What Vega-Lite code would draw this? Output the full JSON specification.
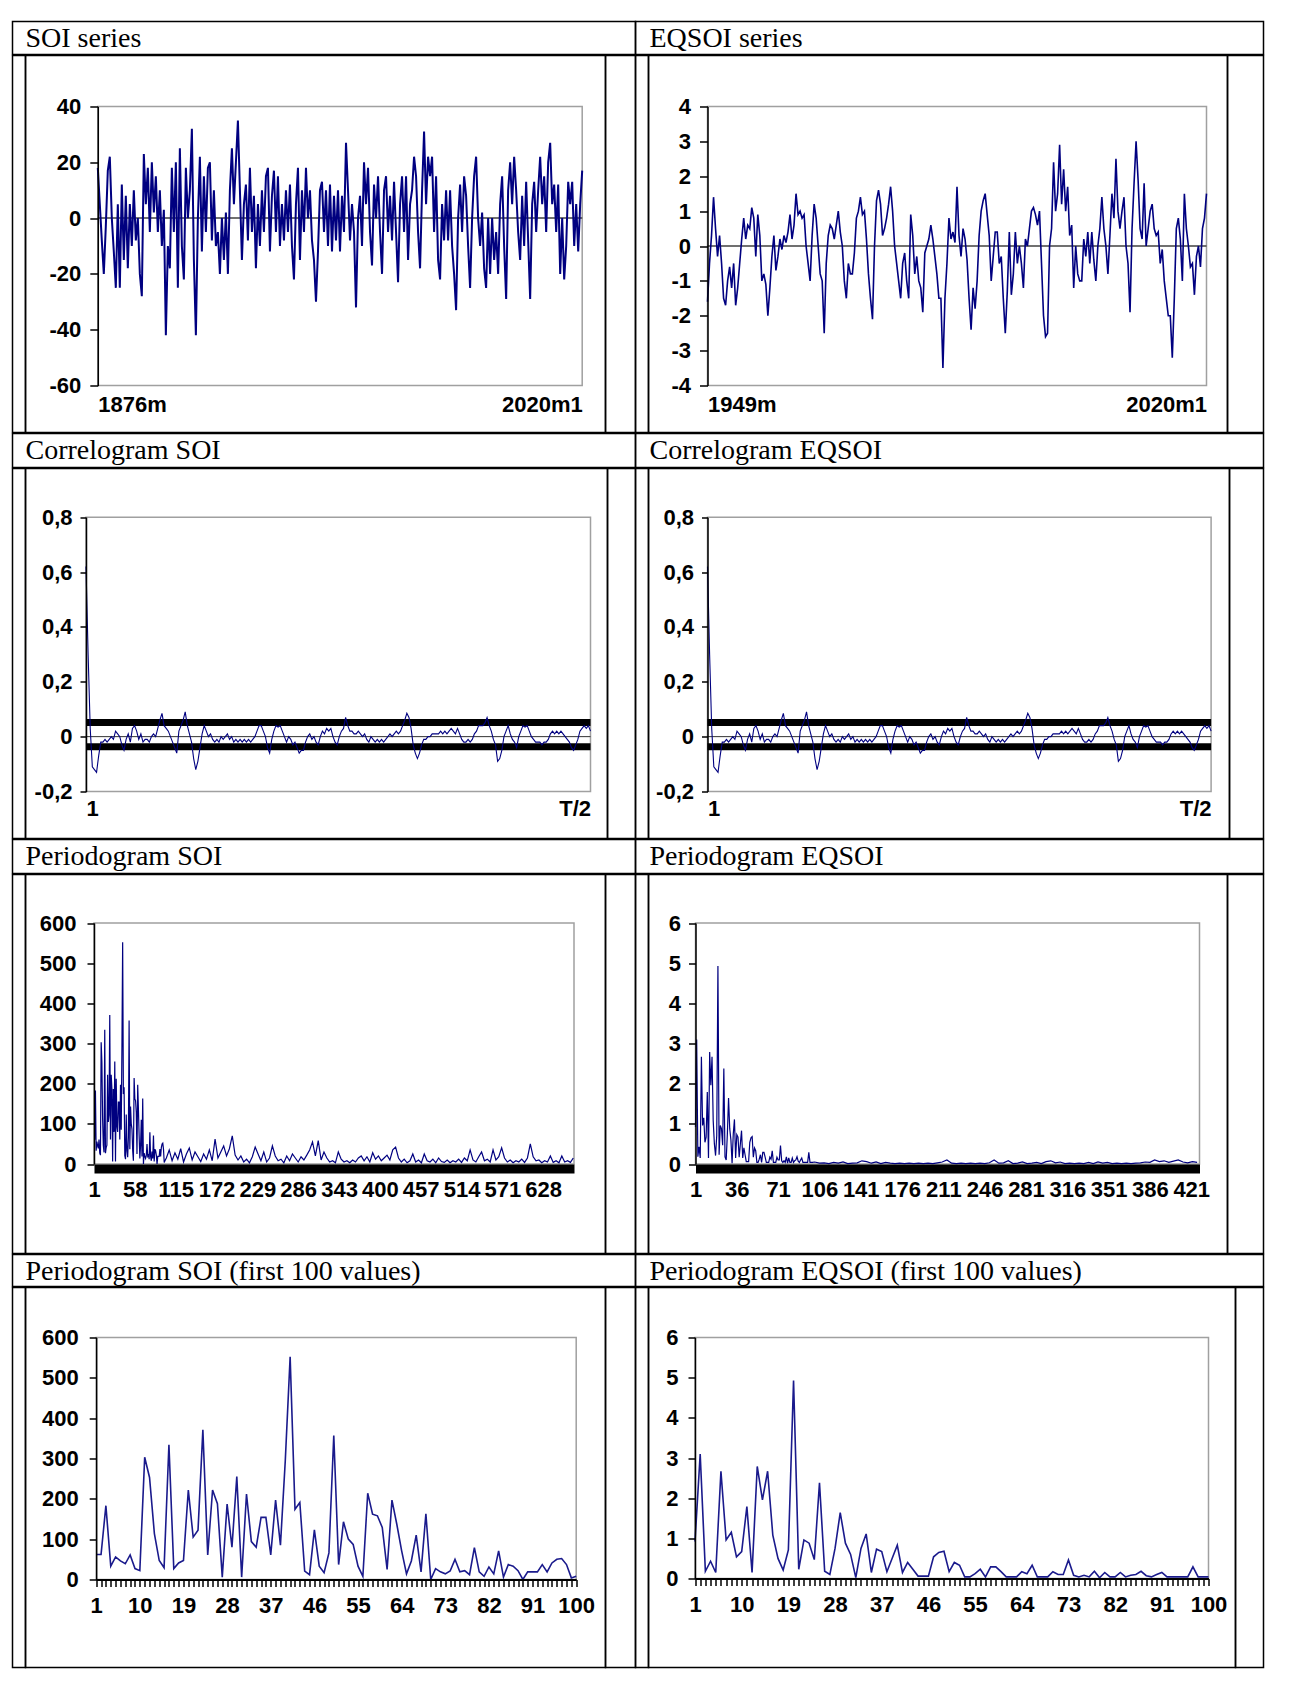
{
"$schema": "https://vega.github.io/schema/vega-lite/v6.json",
"background": "white",
"padding": {"left": 11.5, "top": 20.5, "right": 0, "bottom": 0},
"spacing": -3,
"bounds": "full",
"data": {"values": [{}]},
"datasets": {
"soi": [{"i":0,"v":18},{"i":1,"v":5},{"i":2,"v":-8},{"i":3,"v":-20},{"i":4,"v":-3},{"i":5,"v":17},{"i":6,"v":22},{"i":7,"v":0},{"i":8,"v":-12},{"i":9,"v":-25},
{"i":10,"v":5},{"i":11,"v":-25},{"i":12,"v":12},{"i":13,"v":-15},{"i":14,"v":8},{"i":15,"v":-18},{"i":16,"v":5},{"i":17,"v":-10},{"i":18,"v":10},{"i":19,"v":-8},
{"i":20,"v":0},{"i":21,"v":-20},{"i":22,"v":-28},{"i":23,"v":23},{"i":24,"v":5},{"i":25,"v":18},{"i":26,"v":-5},{"i":27,"v":20},{"i":28,"v":2},{"i":29,"v":15},
{"i":30,"v":-5},{"i":31,"v":10},{"i":32,"v":-10},{"i":33,"v":3},{"i":34,"v":-42},{"i":35,"v":-10},{"i":36,"v":-18},{"i":37,"v":18},{"i":38,"v":-5},{"i":39,"v":20},
{"i":40,"v":-25},{"i":41,"v":25},{"i":42,"v":-10},{"i":43,"v":-22},{"i":44,"v":18},{"i":45,"v":0},{"i":46,"v":10},{"i":47,"v":32},{"i":48,"v":-15},{"i":49,"v":-42},
{"i":50,"v":0},{"i":51,"v":22},{"i":52,"v":-12},{"i":53,"v":15},{"i":54,"v":-5},{"i":55,"v":18},{"i":56,"v":20},{"i":57,"v":-8},{"i":58,"v":10},{"i":59,"v":-10},
{"i":60,"v":-5},{"i":61,"v":-20},{"i":62,"v":0},{"i":63,"v":-15},{"i":64,"v":2},{"i":65,"v":-20},{"i":66,"v":10},{"i":67,"v":25},{"i":68,"v":5},{"i":69,"v":20},
{"i":70,"v":35},{"i":71,"v":10},{"i":72,"v":-15},{"i":73,"v":5},{"i":74,"v":12},{"i":75,"v":-8},{"i":76,"v":18},{"i":77,"v":-5},{"i":78,"v":8},{"i":79,"v":-18},
{"i":80,"v":5},{"i":81,"v":-10},{"i":82,"v":10},{"i":83,"v":-5},{"i":84,"v":15},{"i":85,"v":18},{"i":86,"v":-12},{"i":87,"v":8},{"i":88,"v":17},{"i":89,"v":-5},
{"i":90,"v":15},{"i":91,"v":-10},{"i":92,"v":5},{"i":93,"v":-8},{"i":94,"v":10},{"i":95,"v":-5},{"i":96,"v":12},{"i":97,"v":-10},{"i":98,"v":-22},{"i":99,"v":5},
{"i":100,"v":18},{"i":101,"v":-15},{"i":102,"v":10},{"i":103,"v":-5},{"i":104,"v":18},{"i":105,"v":0},{"i":106,"v":10},{"i":107,"v":-8},{"i":108,"v":-15},{"i":109,"v":-30},
{"i":110,"v":-12},{"i":111,"v":10},{"i":112,"v":13},{"i":113,"v":-5},{"i":114,"v":10},{"i":115,"v":-10},{"i":116,"v":12},{"i":117,"v":-12},{"i":118,"v":8},{"i":119,"v":-8},
{"i":120,"v":10},{"i":121,"v":-12},{"i":122,"v":8},{"i":123,"v":-5},
{"i":124,"v":27},{"i":125,"v":10},{"i":126,"v":-8},{"i":127,"v":5},{"i":128,"v":-5},{"i":129,"v":-32},{"i":130,"v":0},{"i":131,"v":8},{"i":132,"v":-10},{"i":133,"v":20},
{"i":134,"v":5},{"i":135,"v":18},{"i":136,"v":-5},{"i":137,"v":-17},{"i":138,"v":12},{"i":139,"v":0},{"i":140,"v":15},{"i":141,"v":-5},{"i":142,"v":-20},{"i":143,"v":10},
{"i":144,"v":15},{"i":145,"v":-5},{"i":146,"v":8},{"i":147,"v":-8},{"i":148,"v":13},{"i":149,"v":-5},{"i":150,"v":-23},{"i":151,"v":5},{"i":152,"v":15},{"i":153,"v":-5},
{"i":154,"v":15},{"i":155,"v":-15},{"i":156,"v":5},{"i":157,"v":10},{"i":158,"v":22},{"i":159,"v":15},{"i":160,"v":-5},{"i":161,"v":-18},{"i":162,"v":10},{"i":163,"v":31},
{"i":164,"v":5},{"i":165,"v":22},{"i":166,"v":15},{"i":167,"v":22},{"i":168,"v":-5},{"i":169,"v":15},{"i":170,"v":-15},{"i":171,"v":-22},{"i":172,"v":5},{"i":173,"v":-8},
{"i":174,"v":10},{"i":175,"v":-8},{"i":176,"v":10},{"i":177,"v":-10},{"i":178,"v":-20},{"i":179,"v":-33},{"i":180,"v":0},{"i":181,"v":12},{"i":182,"v":-5},{"i":183,"v":15},
{"i":184,"v":8},{"i":185,"v":-10},{"i":186,"v":-25},{"i":187,"v":0},{"i":188,"v":15},{"i":189,"v":22},{"i":190,"v":0},{"i":191,"v":-10},{"i":192,"v":2},{"i":193,"v":-18},
{"i":194,"v":-25},{"i":195,"v":0},{"i":196,"v":-20},{"i":197,"v":0},{"i":198,"v":-15},{"i":199,"v":-5},{"i":200,"v":-20},{"i":201,"v":5},{"i":202,"v":15},{"i":203,"v":-10},
{"i":204,"v":-29},{"i":205,"v":10},{"i":206,"v":20},{"i":207,"v":5},{"i":208,"v":22},{"i":209,"v":10},{"i":210,"v":-5},{"i":211,"v":-15},{"i":212,"v":8},{"i":213,"v":-10},
{"i":214,"v":13},{"i":215,"v":-8},{"i":216,"v":-29},{"i":217,"v":5},{"i":218,"v":13},{"i":219,"v":-5},{"i":220,"v":10},{"i":221,"v":22},{"i":222,"v":5},{"i":223,"v":15},
{"i":224,"v":-5},{"i":225,"v":20},{"i":226,"v":27},{"i":227,"v":5},{"i":228,"v":12},{"i":229,"v":-5},{"i":230,"v":12},{"i":231,"v":-20},{"i":232,"v":0},{"i":233,"v":-22},
{"i":234,"v":-10},{"i":235,"v":13},{"i":236,"v":5},{"i":237,"v":13},{"i":238,"v":-10},{"i":239,"v":5},{"i":240,"v":-12},{"i":241,"v":5},{"i":242,"v":17}],
"eq": [{"i":0,"v":-1.6},{"i":1,"v":-0.5},{"i":2,"v":0.3},{"i":3,"v":1.4},{"i":4,"v":0.5},{"i":5,"v":-0.3},{"i":6,"v":0.3},{"i":7,"v":-0.5},{"i":8,"v":-1.5},{"i":9,"v":-1.7},
{"i":10,"v":-1.0},{"i":11,"v":-0.6},{"i":12,"v":-1.2},{"i":13,"v":-0.5},{"i":14,"v":-1.7},{"i":15,"v":-1.2},{"i":16,"v":-0.5},{"i":17,"v":0.2},{"i":18,"v":0.8},{"i":19,"v":0.2},
{"i":20,"v":0.6},{"i":21,"v":0.5},{"i":22,"v":1.1},{"i":23,"v":0.8},{"i":24,"v":-0.3},{"i":25,"v":0.9},{"i":26,"v":0.3},{"i":27,"v":-1.0},{"i":28,"v":-0.8},{"i":29,"v":-1.1},
{"i":30,"v":-2.0},{"i":31,"v":-1.2},{"i":32,"v":-0.3},{"i":33,"v":0.3},{"i":34,"v":-0.7},{"i":35,"v":-0.3},{"i":36,"v":0.2},{"i":37,"v":-0.1},{"i":38,"v":0.3},{"i":39,"v":0.1},
{"i":40,"v":0.4},{"i":41,"v":0.9},{"i":42,"v":0.2},{"i":43,"v":0.6},{"i":44,"v":1.5},{"i":45,"v":0.9},{"i":46,"v":1.0},{"i":47,"v":0.8},{"i":48,"v":0.9},{"i":49,"v":0.0},
{"i":50,"v":-0.5},{"i":51,"v":-1.0},{"i":52,"v":0.3},{"i":53,"v":1.2},{"i":54,"v":0.8},{"i":55,"v":0.0},{"i":56,"v":-0.8},{"i":57,"v":-1.0},{"i":58,"v":-2.5},{"i":59,"v":-0.5},
{"i":60,"v":0.3},{"i":61,"v":0.6},{"i":62,"v":0.5},{"i":63,"v":0.2},{"i":64,"v":0.6},{"i":65,"v":1.0},{"i":66,"v":0.4},{"i":67,"v":0.0},{"i":68,"v":-1.0},{"i":69,"v":-1.5},
{"i":70,"v":-0.5},{"i":71,"v":-0.8},{"i":72,"v":-0.8},{"i":73,"v":-0.2},{"i":74,"v":0.8},{"i":75,"v":1.0},{"i":76,"v":1.4},{"i":77,"v":0.9},{"i":78,"v":1.0},{"i":79,"v":0.2},
{"i":80,"v":-0.8},{"i":81,"v":-1.5},{"i":82,"v":-2.1},{"i":83,"v":0.0},{"i":84,"v":1.3},{"i":85,"v":1.6},{"i":86,"v":1.2},{"i":87,"v":0.3},{"i":88,"v":0.5},{"i":89,"v":0.8},
{"i":90,"v":1.2},{"i":91,"v":1.7},{"i":92,"v":1.0},{"i":93,"v":0.0},{"i":94,"v":-0.5},{"i":95,"v":-1.0},{"i":96,"v":-1.5},{"i":97,"v":-0.5},{"i":98,"v":-0.2},{"i":99,"v":-1.0},
{"i":100,"v":-1.5},{"i":101,"v":0.9},{"i":102,"v":0.3},{"i":103,"v":-0.8},{"i":104,"v":-0.3},{"i":105,"v":-1.0},{"i":106,"v":-1.2},{"i":107,"v":-1.9},{"i":108,"v":-0.2},{"i":109,"v":0.0},
{"i":110,"v":0.2},{"i":111,"v":0.6},{"i":112,"v":0.2},{"i":113,"v":-0.3},{"i":114,"v":-0.8},{"i":115,"v":-1.5},{"i":116,"v":-1.5},{"i":117,"v":-3.5},{"i":118,"v":-1.5},{"i":119,"v":-0.5},
{"i":120,"v":0.8},{"i":121,"v":0.2},{"i":122,"v":0.4},{"i":123,"v":0.1},{"i":124,"v":1.7},{"i":125,"v":0.3},{"i":126,"v":-0.3},{"i":127,"v":0.5},{"i":128,"v":0.2},{"i":129,"v":-0.4},
{"i":130,"v":-1.5},{"i":131,"v":-2.4},{"i":132,"v":-1.2},{"i":133,"v":-1.8},{"i":134,"v":-1.0},{"i":135,"v":0.3},{"i":136,"v":1.0},{"i":137,"v":1.3},{"i":138,"v":1.5},{"i":139,"v":0.9},
{"i":140,"v":0.3},{"i":141,"v":-1.0},{"i":142,"v":-0.3},{"i":143,"v":0.4},{"i":144,"v":0.4},{"i":145,"v":-0.5},{"i":146,"v":-0.3},{"i":147,"v":-1.5},{"i":148,"v":-2.5},{"i":149,"v":-1.3},
{"i":150,"v":0.4},{"i":151,"v":-1.4},{"i":152,"v":-0.8},{"i":153,"v":0.4},{"i":154,"v":-0.5},{"i":155,"v":0.0},{"i":156,"v":-0.5},{"i":157,"v":-1.2},{"i":158,"v":0.2},{"i":159,"v":0.0},
{"i":160,"v":0.5},{"i":161,"v":1.0},{"i":162,"v":1.1},{"i":163,"v":0.9},{"i":164,"v":0.6},{"i":165,"v":1.0},{"i":166,"v":-0.5},{"i":167,"v":-2.0},{"i":168,"v":-2.6},{"i":169,"v":-2.5},
{"i":170,"v":0.0},{"i":171,"v":0.5},{"i":172,"v":2.4},{"i":173,"v":1.0},{"i":174,"v":1.5},{"i":175,"v":2.9},{"i":176,"v":1.2},{"i":177,"v":2.2},{"i":178,"v":1.0},{"i":179,"v":1.7},
{"i":180,"v":0.3},{"i":181,"v":0.6},{"i":182,"v":-1.2},{"i":183,"v":0.0},{"i":184,"v":-0.8},{"i":185,"v":-1.0},{"i":186,"v":-1.0},{"i":187,"v":0.2},{"i":188,"v":-0.3},{"i":189,"v":0.4},
{"i":190,"v":-0.5},{"i":191,"v":0.4},{"i":192,"v":-0.4},{"i":193,"v":-1.0},{"i":194,"v":0.0},{"i":195,"v":0.5},{"i":196,"v":1.4},{"i":197,"v":0.5},{"i":198,"v":0.0},{"i":199,"v":-0.8},
{"i":200,"v":0.3},{"i":201,"v":1.5},{"i":202,"v":0.8},{"i":203,"v":2.5},{"i":204,"v":1.0},{"i":205,"v":0.5},{"i":206,"v":1.0},{"i":207,"v":1.4},{"i":208,"v":0.0},{"i":209,"v":-0.5},
{"i":210,"v":-1.9},{"i":211,"v":0.5},{"i":212,"v":1.8},{"i":213,"v":3.0},{"i":214,"v":1.9},{"i":215,"v":0.5},{"i":216,"v":0.2},{"i":217,"v":1.8},{"i":218,"v":0.0},{"i":219,"v":0.5},
{"i":220,"v":1.0},{"i":221,"v":1.2},{"i":222,"v":0.5},{"i":223,"v":0.3},{"i":224,"v":0.4},{"i":225,"v":-0.5},{"i":226,"v":-0.1},{"i":227,"v":-1.0},{"i":228,"v":-1.5},{"i":229,"v":-2.0},
{"i":230,"v":-2.0},{"i":231,"v":-3.2},{"i":232,"v":-1.5},{"i":233,"v":0.5},{"i":234,"v":0.8},{"i":235,"v":0.2},{"i":236,"v":-1.0},{"i":237,"v":1.5},{"i":238,"v":0.5},{"i":239,"v":0.0},
{"i":240,"v":-0.6},{"i":241,"v":-0.5},{"i":242,"v":-1.4},{"i":243,"v":-0.3},{"i":244,"v":0.0},{"i":245,"v":-0.6},{"i":246,"v":0.5},{"i":247,"v":0.8},{"i":248,"v":1.5}],
"acf": [{"i":0,"v":0.62},{"i":1,"v":0.30},{"i":2,"v":0.03},{"i":3,"v":-0.11},{"i":4,"v":-0.12},{"i":5,"v":-0.13},{"i":6,"v":-0.07},{"i":7,"v":-0.02},{"i":8,"v":-0.02},{"i":9,"v":-0.01},
{"i":10,"v":-0.02},{"i":11,"v":-0.01},{"i":12,"v":0.0},{"i":13,"v":-0.01},{"i":14,"v":0.02},{"i":15,"v":0.01},{"i":16,"v":0.0},{"i":17,"v":-0.03},{"i":18,"v":-0.05},{"i":19,"v":-0.01},
{"i":20,"v":0.01},{"i":21,"v":-0.02},{"i":22,"v":0.03},{"i":23,"v":0.04},{"i":24,"v":0.02},{"i":25,"v":-0.01},{"i":26,"v":0.01},{"i":27,"v":-0.02},{"i":28,"v":-0.01},{"i":29,"v":-0.01},
{"i":30,"v":-0.02},{"i":31,"v":0.0},{"i":32,"v":0.01},{"i":33,"v":0.0},{"i":34,"v":0.03},{"i":35,"v":0.06},{"i":36,"v":0.085},{"i":37,"v":0.04},{"i":38,"v":0.03},{"i":39,"v":0.02},
{"i":40,"v":0.0},{"i":41,"v":-0.02},{"i":42,"v":-0.04},{"i":43,"v":-0.06},{"i":44,"v":0.02},{"i":45,"v":0.04},{"i":46,"v":0.06},{"i":47,"v":0.09},{"i":48,"v":0.04},{"i":49,"v":0.01},
{"i":50,"v":-0.02},{"i":51,"v":-0.08},{"i":52,"v":-0.12},{"i":53,"v":-0.09},{"i":54,"v":-0.04},{"i":55,"v":0.01},{"i":56,"v":0.04},{"i":57,"v":0.02},{"i":58,"v":0.0},{"i":59,"v":0.01},
{"i":60,"v":-0.01},{"i":61,"v":-0.02},{"i":62,"v":-0.01},{"i":63,"v":-0.02},{"i":64,"v":0.0},{"i":65,"v":-0.01},{"i":66,"v":0.0},{"i":67,"v":0.01},{"i":68,"v":-0.01},{"i":69,"v":0.0},
{"i":70,"v":-0.02},{"i":71,"v":-0.01},{"i":72,"v":-0.02},{"i":73,"v":-0.01},{"i":74,"v":-0.02},{"i":75,"v":-0.01},{"i":76,"v":-0.02},{"i":77,"v":-0.01},{"i":78,"v":-0.02},{"i":79,"v":-0.01},
{"i":80,"v":0.0},{"i":81,"v":0.02},{"i":82,"v":0.04},{"i":83,"v":0.04},{"i":84,"v":0.02},{"i":85,"v":0.0},{"i":86,"v":-0.04},{"i":87,"v":-0.06},{"i":88,"v":-0.01},{"i":89,"v":0.02},
{"i":90,"v":0.04},{"i":91,"v":0.035},{"i":92,"v":0.04},{"i":93,"v":0.02},{"i":94,"v":0.0},{"i":95,"v":-0.02},{"i":96,"v":0.0},{"i":97,"v":-0.01},{"i":98,"v":-0.03},{"i":99,"v":-0.02},
{"i":100,"v":-0.04},{"i":101,"v":-0.06},{"i":102,"v":-0.05},{"i":103,"v":-0.05},{"i":104,"v":-0.02},{"i":105,"v":0.0},{"i":106,"v":0.01},{"i":107,"v":-0.01},{"i":108,"v":0.0},{"i":109,"v":-0.02},
{"i":110,"v":-0.03},{"i":111,"v":0.0},{"i":112,"v":0.02},{"i":113,"v":0.01},{"i":114,"v":0.03},{"i":115,"v":0.02},{"i":116,"v":0.03},{"i":117,"v":0.0},{"i":118,"v":-0.02},{"i":119,"v":-0.03},
{"i":120,"v":0.0},{"i":121,"v":0.02},{"i":122,"v":0.03},{"i":123,"v":0.07},{"i":124,"v":0.04},{"i":125,"v":0.02},{"i":126,"v":0.02},{"i":127,"v":0.01},{"i":128,"v":0.01},{"i":129,"v":0.02},
{"i":130,"v":0.01},{"i":131,"v":0.0},{"i":132,"v":0.01},{"i":133,"v":-0.01},{"i":134,"v":-0.02},{"i":135,"v":0.0},{"i":136,"v":-0.01},{"i":137,"v":-0.02},{"i":138,"v":-0.01},{"i":139,"v":-0.02},
{"i":140,"v":-0.01},{"i":141,"v":-0.02},{"i":142,"v":-0.01},{"i":143,"v":0.0},{"i":144,"v":0.01},{"i":145,"v":0.0},{"i":146,"v":0.01},{"i":147,"v":0.02},{"i":148,"v":0.01},{"i":149,"v":0.02},
{"i":150,"v":0.04},{"i":151,"v":0.06},{"i":152,"v":0.085},{"i":153,"v":0.07},{"i":154,"v":0.03},{"i":155,"v":-0.03},{"i":156,"v":-0.06},{"i":157,"v":-0.08},{"i":158,"v":-0.06},{"i":159,"v":-0.03},
{"i":160,"v":-0.01},{"i":161,"v":-0.01},{"i":162,"v":0.0},{"i":163,"v":0.0},{"i":164,"v":0.01},{"i":165,"v":0.01},{"i":166,"v":0.01},{"i":167,"v":0.01},{"i":168,"v":0.02},{"i":169,"v":0.01},
{"i":170,"v":0.02},{"i":171,"v":0.01},{"i":172,"v":0.02},{"i":173,"v":0.03},{"i":174,"v":0.02},{"i":175,"v":0.01},{"i":176,"v":0.03},{"i":177,"v":0.01},{"i":178,"v":-0.01},{"i":179,"v":-0.02},
{"i":180,"v":-0.02},{"i":181,"v":-0.01},{"i":182,"v":-0.02},{"i":183,"v":-0.01},{"i":184,"v":0.01},{"i":185,"v":0.02},{"i":186,"v":0.04},{"i":187,"v":0.04},{"i":188,"v":0.04},{"i":189,"v":0.05},
{"i":190,"v":0.07},{"i":191,"v":0.04},{"i":192,"v":0.02},{"i":193,"v":-0.01},{"i":194,"v":-0.03},{"i":195,"v":-0.09},{"i":196,"v":-0.08},{"i":197,"v":-0.05},{"i":198,"v":0.0},{"i":199,"v":0.02},
{"i":200,"v":0.04},{"i":201,"v":0.01},{"i":202,"v":-0.01},{"i":203,"v":-0.02},{"i":204,"v":-0.04},{"i":205,"v":0.0},{"i":206,"v":0.02},{"i":207,"v":0.04},{"i":208,"v":0.035},{"i":209,"v":0.04},
{"i":210,"v":0.02},{"i":211,"v":0.0},{"i":212,"v":-0.01},{"i":213,"v":-0.02},{"i":214,"v":-0.02},{"i":215,"v":-0.02},{"i":216,"v":-0.03},{"i":217,"v":-0.02},{"i":218,"v":-0.02},{"i":219,"v":-0.01},
{"i":220,"v":0.01},{"i":221,"v":0.02},{"i":222,"v":0.01},{"i":223,"v":0.02},{"i":224,"v":0.01},{"i":225,"v":0.02},{"i":226,"v":0.01},{"i":227,"v":0.0},{"i":228,"v":-0.01},{"i":229,"v":-0.02},
{"i":230,"v":-0.04},{"i":231,"v":-0.05},{"i":232,"v":-0.03},{"i":233,"v":-0.01},{"i":234,"v":0.02},{"i":235,"v":0.03},{"i":236,"v":0.04},{"i":237,"v":0.03},{"i":238,"v":0.04},{"i":239,"v":0.02}],
"psoi": [{"k":1,"p":62},{"k":2,"p":62},{"k":3,"p":183},{"k":4,"p":33},{"k":5,"p":56},{"k":6,"p":46},{"k":7,"p":39},{"k":8,"p":61},{"k":9,"p":27},{"k":10,"p":22},
{"k":11,"p":303},{"k":12,"p":253},{"k":13,"p":114},{"k":14,"p":47},{"k":15,"p":29},{"k":16,"p":334},{"k":17,"p":27},{"k":18,"p":41},{"k":19,"p":47},{"k":20,"p":222},
{"k":21,"p":105},{"k":22,"p":122},{"k":23,"p":371},{"k":24,"p":61},{"k":25,"p":222},{"k":26,"p":188},{"k":27,"p":6},{"k":28,"p":187},{"k":29,"p":80},{"k":30,"p":255},
{"k":31,"p":6},{"k":32,"p":212},{"k":33,"p":94},{"k":34,"p":80},{"k":35,"p":154},{"k":36,"p":154},{"k":37,"p":61},{"k":38,"p":197},{"k":39,"p":85},{"k":40,"p":295},
{"k":41,"p":552},{"k":42,"p":174},{"k":43,"p":191},{"k":44,"p":21},{"k":45,"p":12},{"k":46,"p":123},{"k":47,"p":33},{"k":48,"p":17},{"k":49,"p":66},{"k":50,"p":357},
{"k":51,"p":37},{"k":52,"p":143},{"k":53,"p":100},{"k":54,"p":87},{"k":55,"p":33},{"k":56,"p":8},{"k":57,"p":214},{"k":58,"p":162},{"k":59,"p":158},{"k":60,"p":129},
{"k":61,"p":25},{"k":62,"p":197},{"k":63,"p":137},{"k":64,"p":71},{"k":65,"p":14},{"k":66,"p":46},{"k":67,"p":110},{"k":68,"p":19},{"k":69,"p":163},{"k":70,"p":0},
{"k":71,"p":27},{"k":72,"p":19},{"k":73,"p":14},{"k":74,"p":21},{"k":75,"p":50},{"k":76,"p":19},{"k":77,"p":22},{"k":78,"p":12},{"k":79,"p":79},{"k":80,"p":19},
{"k":81,"p":8},{"k":82,"p":31},{"k":83,"p":14},{"k":84,"p":71},{"k":85,"p":6},{"k":86,"p":37},{"k":87,"p":33},{"k":88,"p":22},{"k":89,"p":0},{"k":90,"p":19},
{"k":91,"p":19},{"k":92,"p":19},{"k":93,"p":37},{"k":94,"p":19},{"k":95,"p":41},{"k":96,"p":50},{"k":97,"p":52},{"k":98,"p":37},{"k":99,"p":4},{"k":100,"p":8},
{"k":102,"p":15},{"k":106,"p":35},{"k":110,"p":8},{"k":114,"p":28},{"k":118,"p":12},{"k":122,"p":38},{"k":126,"p":5},{"k":130,"p":25},{"k":134,"p":40},{"k":138,"p":10},
{"k":142,"p":30},{"k":146,"p":18},{"k":150,"p":6},{"k":154,"p":25},{"k":158,"p":12},{"k":162,"p":35},{"k":166,"p":8},{"k":170,"p":62},{"k":174,"p":15},{"k":178,"p":30},
{"k":182,"p":45},{"k":186,"p":20},{"k":190,"p":38},{"k":194,"p":70},{"k":198,"p":22},{"k":202,"p":10},{"k":206,"p":20},{"k":210,"p":5},{"k":214,"p":12},{"k":218,"p":3},
{"k":222,"p":18},{"k":226,"p":42},{"k":230,"p":25},{"k":234,"p":8},{"k":238,"p":30},{"k":242,"p":5},{"k":246,"p":15},{"k":250,"p":45},{"k":254,"p":20},{"k":258,"p":8},
{"k":262,"p":12},{"k":266,"p":3},{"k":270,"p":20},{"k":274,"p":8},{"k":278,"p":25},{"k":282,"p":15},{"k":286,"p":5},{"k":290,"p":18},{"k":294,"p":10},{"k":298,"p":22},
{"k":302,"p":35},{"k":306,"p":55},{"k":310,"p":20},{"k":314,"p":58},{"k":318,"p":10},{"k":322,"p":30},{"k":326,"p":15},{"k":330,"p":5},{"k":334,"p":8},{"k":338,"p":3},
{"k":342,"p":30},{"k":346,"p":12},{"k":350,"p":5},{"k":354,"p":8},{"k":358,"p":3},{"k":362,"p":10},{"k":366,"p":5},{"k":370,"p":15},{"k":374,"p":20},{"k":378,"p":8},
{"k":382,"p":18},{"k":386,"p":5},{"k":390,"p":28},{"k":394,"p":12},{"k":398,"p":20},{"k":402,"p":8},{"k":406,"p":15},{"k":410,"p":22},{"k":414,"p":10},{"k":418,"p":35},
{"k":422,"p":42},{"k":426,"p":15},{"k":430,"p":5},{"k":434,"p":12},{"k":438,"p":3},{"k":442,"p":8},{"k":446,"p":25},{"k":450,"p":5},{"k":454,"p":10},{"k":458,"p":3},
{"k":462,"p":25},{"k":466,"p":8},{"k":470,"p":5},{"k":474,"p":12},{"k":478,"p":3},{"k":482,"p":15},{"k":486,"p":6},{"k":490,"p":4},{"k":494,"p":10},{"k":498,"p":3},
{"k":502,"p":8},{"k":506,"p":5},{"k":510,"p":12},{"k":514,"p":4},{"k":518,"p":15},{"k":522,"p":8},{"k":526,"p":35},{"k":530,"p":10},{"k":534,"p":5},{"k":538,"p":18},
{"k":542,"p":30},{"k":546,"p":8},{"k":550,"p":12},{"k":554,"p":5},{"k":558,"p":35},{"k":562,"p":10},{"k":566,"p":18},{"k":570,"p":40},{"k":574,"p":15},{"k":578,"p":5},
{"k":582,"p":10},{"k":586,"p":3},{"k":590,"p":8},{"k":594,"p":5},{"k":598,"p":12},{"k":602,"p":4},{"k":606,"p":15},{"k":610,"p":50},{"k":614,"p":18},{"k":618,"p":8},
{"k":622,"p":10},{"k":626,"p":3},{"k":630,"p":8},{"k":634,"p":5},{"k":638,"p":20},{"k":642,"p":4},{"k":646,"p":8},{"k":650,"p":3},{"k":654,"p":20},{"k":658,"p":5},
{"k":662,"p":8},{"k":666,"p":4},{"k":670,"p":15}],
"peq": [{"k":1,"p":0.92},{"k":2,"p":3.10},{"k":3,"p":0.18},{"k":4,"p":0.43},{"k":5,"p":0.15},{"k":6,"p":2.67},{"k":7,"p":0.96},{"k":8,"p":1.15},{"k":9,"p":0.54},{"k":10,"p":0.67},
{"k":11,"p":1.79},{"k":12,"p":0.15},{"k":13,"p":2.79},{"k":14,"p":1.96},{"k":15,"p":2.67},{"k":16,"p":1.08},{"k":17,"p":0.5},{"k":18,"p":0.21},{"k":19,"p":0.71},{"k":20,"p":4.93},
{"k":21,"p":0.23},{"k":22,"p":0.96},{"k":23,"p":0.88},{"k":24,"p":0.47},{"k":25,"p":2.38},{"k":26,"p":0.18},{"k":27,"p":0.1},{"k":28,"p":0.75},{"k":29,"p":1.64},{"k":30,"p":0.88},
{"k":31,"p":0.6},{"k":32,"p":0.02},{"k":33,"p":0.75},{"k":34,"p":1.11},{"k":35,"p":0.15},{"k":36,"p":0.73},{"k":37,"p":0.67},{"k":38,"p":0.17},{"k":39,"p":0.5},{"k":40,"p":0.83},
{"k":41,"p":0.15},{"k":42,"p":0.4},{"k":43,"p":0.23},{"k":44,"p":0.06},{"k":45,"p":0.06},{"k":46,"p":0.06},{"k":47,"p":0.54},{"k":48,"p":0.65},{"k":49,"p":0.68},{"k":50,"p":0.17},
{"k":51,"p":0.4},{"k":52,"p":0.33},{"k":53,"p":0.04},{"k":54,"p":0.04},{"k":55,"p":0.12},{"k":56,"p":0.23},{"k":57,"p":0.04},{"k":58,"p":0.29},{"k":59,"p":0.29},{"k":60,"p":0.17},
{"k":61,"p":0.04},{"k":62,"p":0.04},{"k":63,"p":0.04},{"k":64,"p":0.17},{"k":65,"p":0.12},{"k":66,"p":0.33},{"k":67,"p":0.04},{"k":68,"p":0.04},{"k":69,"p":0.04},{"k":70,"p":0.17},
{"k":71,"p":0.1},{"k":72,"p":0.1},{"k":73,"p":0.46},{"k":74,"p":0.08},{"k":75,"p":0.04},{"k":76,"p":0.08},{"k":77,"p":0.04},{"k":78,"p":0.18},{"k":79,"p":0.02},{"k":80,"p":0.15},
{"k":81,"p":0.04},{"k":82,"p":0.04},{"k":83,"p":0.15},{"k":84,"p":0.04},{"k":85,"p":0.08},{"k":86,"p":0.1},{"k":87,"p":0.18},{"k":88,"p":0.07},{"k":89,"p":0.04},{"k":90,"p":0.1},
{"k":91,"p":0.15},{"k":92,"p":0.04},{"k":93,"p":0.04},{"k":94,"p":0.04},{"k":95,"p":0.04},{"k":96,"p":0.04},{"k":97,"p":0.29},{"k":98,"p":0.04},{"k":99,"p":0.04},{"k":100,"p":0.04},
{"k":102,"p":0.05},{"k":106,"p":0.02},{"k":110,"p":0.03},{"k":114,"p":0.01},{"k":118,"p":0.04},{"k":122,"p":0.02},{"k":126,"p":0.05},{"k":130,"p":0.01},{"k":134,"p":0.02},{"k":138,"p":0.03},
{"k":142,"p":0.08},{"k":146,"p":0.06},{"k":150,"p":0.02},{"k":154,"p":0.05},{"k":158,"p":0.01},{"k":162,"p":0.04},{"k":166,"p":0.02},{"k":170,"p":0.01},{"k":174,"p":0.02},{"k":178,"p":0.01},
{"k":182,"p":0.02},{"k":186,"p":0.01},{"k":190,"p":0.02},{"k":194,"p":0.01},{"k":198,"p":0.02},{"k":202,"p":0.01},{"k":206,"p":0.03},{"k":210,"p":0.05},{"k":214,"p":0.1},{"k":218,"p":0.02},
{"k":222,"p":0.01},{"k":226,"p":0.02},{"k":230,"p":0.01},{"k":234,"p":0.02},{"k":238,"p":0.01},{"k":242,"p":0.02},{"k":246,"p":0.01},{"k":250,"p":0.03},{"k":254,"p":0.1},{"k":258,"p":0.02},
{"k":262,"p":0.03},{"k":266,"p":0.08},{"k":270,"p":0.01},{"k":274,"p":0.02},{"k":278,"p":0.05},{"k":282,"p":0.01},{"k":286,"p":0.02},{"k":290,"p":0.04},{"k":294,"p":0.01},{"k":298,"p":0.06},
{"k":302,"p":0.08},{"k":306,"p":0.03},{"k":310,"p":0.05},{"k":314,"p":0.01},{"k":318,"p":0.02},{"k":322,"p":0.01},{"k":326,"p":0.02},{"k":330,"p":0.01},{"k":334,"p":0.04},{"k":338,"p":0.01},
{"k":342,"p":0.05},{"k":346,"p":0.02},{"k":350,"p":0.04},{"k":354,"p":0.01},{"k":358,"p":0.02},{"k":362,"p":0.01},{"k":366,"p":0.02},{"k":370,"p":0.01},{"k":374,"p":0.02},{"k":378,"p":0.03},
{"k":382,"p":0.05},{"k":386,"p":0.04},{"k":390,"p":0.1},{"k":394,"p":0.06},{"k":398,"p":0.08},{"k":402,"p":0.04},{"k":406,"p":0.07},{"k":410,"p":0.1},{"k":414,"p":0.05},{"k":418,"p":0.03},
{"k":422,"p":0.06},{"k":426,"p":0.04}]
},
"vconcat": [
{"spacing": 0, "bounds": "flush", "hconcat": [
 {"width":623,"height":33,"mark":{"type":"point","size":0,"opacity":0},"encoding":{"x":{"datum":0.5,"type":"quantitative","scale":{"domain":[0,1]},"axis":null},"y":{"datum":0.5,"type":"quantitative","scale":{"domain":[0,1]},"axis":null}},"title":{"text":"SOI series","dx":13}},
 {"width":628,"height":33,"mark":{"type":"point","size":0,"opacity":0},"encoding":{"x":{"datum":0.5,"type":"quantitative","scale":{"domain":[0,1]},"axis":null},"y":{"datum":0.5,"type":"quantitative","scale":{"domain":[0,1]},"axis":null}},"title":{"text":"EQSOI series","dx":14}}
]},
{"spacing": 0, "bounds": "flush", "hconcat": [
 {"width":13,"height":377,"mark":{"type":"point","size":0,"opacity":0},"encoding":{"x":{"datum":0.5,"type":"quantitative","scale":{"domain":[0,1]},"axis":null},"y":{"datum":0.5,"type":"quantitative","scale":{"domain":[0,1]},"axis":null}}},
 {"width":580,"height":377,"resolve":{"axis":{"x":"independent","y":"independent"}},"layer":[
  {"mark":{"type":"rect","filled":false,"color":"#a0a0a0","strokeWidth":1.5},"encoding":{"x":{"datum":0,"type":"quantitative","axis":null},"x2":{"datum":242},"y":{"datum":-60,"type":"quantitative","axis":null},"y2":{"datum":40}}},
  {"mark":{"type":"rule","color":"#404040","strokeWidth":1.5},"encoding":{"x":{"datum":0,"type":"quantitative","axis":null},"x2":{"datum":242},"y":{"datum":0,"type":"quantitative","axis":null}}},
  {"data":{"name":"soi"},"mark":{"type":"line","color":"#000080","strokeWidth":2},"encoding":{
   "x":{"field":"i","type":"quantitative","scale":{"domain":[0,242],"range":[72.3,556.7],"nice":false,"zero":false},"axis":{"title":null,"values":[0,242],"labelExpr":"datum.value == 0 ? '1876m' : '2020m1'","labelFlush":true,"domain":false,"ticks":false,"tickSize":0,"offset":-47,"labelPadding":9,"zindex":1}},
   "y":{"field":"v","type":"quantitative","scale":{"domain":[-60,40],"range":[330,51],"nice":false,"zero":false},"axis":{"title":null,"values":[-60,-40,-20,0,20,40],"labelExpr":"datum.value + ''","offset":-72.3,"tickSize":8,"labelPadding":9,"zindex":1}}}}
 ]},
 {"width":30,"height":377,"mark":{"type":"point","size":0,"opacity":0},"encoding":{"x":{"datum":0.5,"type":"quantitative","scale":{"domain":[0,1]},"axis":null},"y":{"datum":0.5,"type":"quantitative","scale":{"domain":[0,1]},"axis":null}}},
 {"width":13,"height":377,"mark":{"type":"point","size":0,"opacity":0},"encoding":{"x":{"datum":0.5,"type":"quantitative","scale":{"domain":[0,1]},"axis":null},"y":{"datum":0.5,"type":"quantitative","scale":{"domain":[0,1]},"axis":null}}},
 {"width":579,"height":377,"resolve":{"axis":{"x":"independent","y":"independent"}},"layer":[
  {"mark":{"type":"rect","filled":false,"color":"#a0a0a0","strokeWidth":1.5},"encoding":{"x":{"datum":0,"type":"quantitative","axis":null},"x2":{"datum":248},"y":{"datum":-4,"type":"quantitative","axis":null},"y2":{"datum":4}}},
  {"mark":{"type":"rule","color":"#404040","strokeWidth":1.5},"encoding":{"x":{"datum":0,"type":"quantitative","axis":null},"x2":{"datum":248},"y":{"datum":0,"type":"quantitative","axis":null}}},
  {"data":{"name":"eq"},"mark":{"type":"line","color":"#000080","strokeWidth":1.6},"encoding":{
   "x":{"field":"i","type":"quantitative","scale":{"domain":[0,248],"range":[59,558],"nice":false,"zero":false},"axis":{"title":null,"values":[0,248],"labelExpr":"datum.value == 0 ? '1949m' : '2020m1'","labelFlush":true,"domain":false,"ticks":false,"tickSize":0,"offset":-47,"labelPadding":9,"zindex":1}},
   "y":{"field":"v","type":"quantitative","scale":{"domain":[-4,4],"range":[330,51],"nice":false,"zero":false},"axis":{"title":null,"values":[-4,-3,-2,-1,0,1,2,3,4],"labelExpr":"datum.value + ''","offset":-59,"tickSize":8,"labelPadding":9,"zindex":1}}}}
 ]},
 {"width":36,"height":377,"mark":{"type":"point","size":0,"opacity":0},"encoding":{"x":{"datum":0.5,"type":"quantitative","scale":{"domain":[0,1]},"axis":null},"y":{"datum":0.5,"type":"quantitative","scale":{"domain":[0,1]},"axis":null}}}
]},
{"spacing": 0, "bounds": "flush", "hconcat": [
 {"width":623,"height":34,"mark":{"type":"point","size":0,"opacity":0},"encoding":{"x":{"datum":0.5,"type":"quantitative","scale":{"domain":[0,1]},"axis":null},"y":{"datum":0.5,"type":"quantitative","scale":{"domain":[0,1]},"axis":null}},"title":{"text":"Correlogram SOI","dx":13}},
 {"width":628,"height":34,"mark":{"type":"point","size":0,"opacity":0},"encoding":{"x":{"datum":0.5,"type":"quantitative","scale":{"domain":[0,1]},"axis":null},"y":{"datum":0.5,"type":"quantitative","scale":{"domain":[0,1]},"axis":null}},"title":{"text":"Correlogram EQSOI","dx":14}}
]},
{"spacing": 0, "bounds": "flush", "hconcat": [
 {"width":13,"height":370,"mark":{"type":"point","size":0,"opacity":0},"encoding":{"x":{"datum":0.5,"type":"quantitative","scale":{"domain":[0,1]},"axis":null},"y":{"datum":0.5,"type":"quantitative","scale":{"domain":[0,1]},"axis":null}}},
 {"width":582,"height":370,"resolve":{"axis":{"x":"independent","y":"independent"}},"layer":[
  {"mark":{"type":"rect","filled":false,"color":"#a0a0a0","strokeWidth":1.5},"encoding":{"x":{"datum":0,"type":"quantitative","axis":null},"x2":{"datum":239},"y":{"datum":-0.2,"type":"quantitative","axis":null},"y2":{"datum":0.8}}},
  {"mark":{"type":"rule","color":"#333333","strokeWidth":1},"encoding":{"x":{"datum":0,"type":"quantitative","axis":null},"x2":{"datum":239},"y":{"datum":0,"type":"quantitative","axis":null}}},
  {"mark":{"type":"rule","color":"black","strokeWidth":7},"encoding":{"x":{"datum":0,"type":"quantitative","axis":null},"x2":{"datum":239},"y":{"datum":0.052,"type":"quantitative","axis":null}}},
  {"mark":{"type":"rule","color":"black","strokeWidth":7},"encoding":{"x":{"datum":0,"type":"quantitative","axis":null},"x2":{"datum":239},"y":{"datum":-0.037,"type":"quantitative","axis":null}}},
  {"data":{"name":"acf"},"mark":{"type":"line","color":"#000080","strokeWidth":1.1},"encoding":{
   "x":{"field":"i","type":"quantitative","scale":{"domain":[0,239],"range":[60.5,565],"nice":false,"zero":false},"axis":{"title":null,"values":[0,239],"labelExpr":"datum.value == 0 ? '1' : 'T/2'","labelFlush":true,"domain":false,"ticks":false,"tickSize":0,"offset":-47,"labelPadding":7,"zindex":1}},
   "y":{"field":"v","type":"quantitative","scale":{"domain":[-0.2,0.8],"range":[323,48.7],"nice":false,"zero":false},"axis":{"title":null,"values":[-0.2,0,0.2,0.4,0.6,0.8],"labelExpr":"datum.value == 0 ? '0' : replace(datum.value + '', '.', ',')","offset":-60.5,"tickSize":6,"labelPadding":8,"zindex":1}}}}
 ]},
 {"width":28,"height":370,"mark":{"type":"point","size":0,"opacity":0},"encoding":{"x":{"datum":0.5,"type":"quantitative","scale":{"domain":[0,1]},"axis":null},"y":{"datum":0.5,"type":"quantitative","scale":{"domain":[0,1]},"axis":null}}},
 {"width":13,"height":370,"mark":{"type":"point","size":0,"opacity":0},"encoding":{"x":{"datum":0.5,"type":"quantitative","scale":{"domain":[0,1]},"axis":null},"y":{"datum":0.5,"type":"quantitative","scale":{"domain":[0,1]},"axis":null}}},
 {"width":581,"height":370,"resolve":{"axis":{"x":"independent","y":"independent"}},"layer":[
  {"mark":{"type":"rect","filled":false,"color":"#a0a0a0","strokeWidth":1.5},"encoding":{"x":{"datum":0,"type":"quantitative","axis":null},"x2":{"datum":239},"y":{"datum":-0.2,"type":"quantitative","axis":null},"y2":{"datum":0.8}}},
  {"mark":{"type":"rule","color":"#333333","strokeWidth":1},"encoding":{"x":{"datum":0,"type":"quantitative","axis":null},"x2":{"datum":239},"y":{"datum":0,"type":"quantitative","axis":null}}},
  {"mark":{"type":"rule","color":"black","strokeWidth":7},"encoding":{"x":{"datum":0,"type":"quantitative","axis":null},"x2":{"datum":239},"y":{"datum":0.052,"type":"quantitative","axis":null}}},
  {"mark":{"type":"rule","color":"black","strokeWidth":7},"encoding":{"x":{"datum":0,"type":"quantitative","axis":null},"x2":{"datum":239},"y":{"datum":-0.037,"type":"quantitative","axis":null}}},
  {"data":{"name":"acf"},"mark":{"type":"line","color":"#000080","strokeWidth":1.1},"encoding":{
   "x":{"field":"i","type":"quantitative","scale":{"domain":[0,239],"range":[59,562.6],"nice":false,"zero":false},"axis":{"title":null,"values":[0,239],"labelExpr":"datum.value == 0 ? '1' : 'T/2'","labelFlush":true,"domain":false,"ticks":false,"tickSize":0,"offset":-47,"labelPadding":7,"zindex":1}},
   "y":{"field":"v","type":"quantitative","scale":{"domain":[-0.2,0.8],"range":[323,48.7],"nice":false,"zero":false},"axis":{"title":null,"values":[-0.2,0,0.2,0.4,0.6,0.8],"labelExpr":"datum.value == 0 ? '0' : replace(datum.value + '', '.', ',')","offset":-59,"tickSize":6,"labelPadding":8,"zindex":1}}}}
 ]},
 {"width":34,"height":370,"mark":{"type":"point","size":0,"opacity":0},"encoding":{"x":{"datum":0.5,"type":"quantitative","scale":{"domain":[0,1]},"axis":null},"y":{"datum":0.5,"type":"quantitative","scale":{"domain":[0,1]},"axis":null}}}
]},
{"spacing": 0, "bounds": "flush", "hconcat": [
 {"width":623,"height":34,"mark":{"type":"point","size":0,"opacity":0},"encoding":{"x":{"datum":0.5,"type":"quantitative","scale":{"domain":[0,1]},"axis":null},"y":{"datum":0.5,"type":"quantitative","scale":{"domain":[0,1]},"axis":null}},"title":{"text":"Periodogram SOI","dx":13}},
 {"width":628,"height":34,"mark":{"type":"point","size":0,"opacity":0},"encoding":{"x":{"datum":0.5,"type":"quantitative","scale":{"domain":[0,1]},"axis":null},"y":{"datum":0.5,"type":"quantitative","scale":{"domain":[0,1]},"axis":null}},"title":{"text":"Periodogram EQSOI","dx":14}}
]},
{"spacing": 0, "bounds": "flush", "hconcat": [
 {"width":13,"height":379,"mark":{"type":"point","size":0,"opacity":0},"encoding":{"x":{"datum":0.5,"type":"quantitative","scale":{"domain":[0,1]},"axis":null},"y":{"datum":0.5,"type":"quantitative","scale":{"domain":[0,1]},"axis":null}}},
 {"width":580,"height":379,"resolve":{"axis":{"x":"independent","y":"independent"}},"layer":[
  {"mark":{"type":"rect","filled":false,"color":"#a0a0a0","strokeWidth":1.5},"encoding":{"x":{"datum":1,"type":"quantitative","axis":null},"x2":{"datum":671},"y":{"datum":0,"type":"quantitative","axis":null},"y2":{"datum":600}}},
  {"data":{"name":"psoi"},"mark":{"type":"line","color":"#000080","strokeWidth":1.2},"encoding":{
   "x":{"field":"k","type":"quantitative","scale":{"domain":[1,671],"range":[68.5,548.5],"nice":false,"zero":false},"axis":{"title":null,"values":[1,58,115,172,229,286,343,400,457,514,571,628],"labelExpr":"datum.value + ''","labelFlush":false,"domainWidth":9,"ticks":false,"tickSize":0,"offset":-85,"labelPadding":11,"zindex":1}},
   "y":{"field":"p","type":"quantitative","scale":{"domain":[0,600],"range":[289.5,48.5],"nice":false,"zero":false},"axis":{"title":null,"values":[0,100,200,300,400,500,600],"labelExpr":"datum.value + ''","offset":-68.5,"tickSize":7,"labelPadding":11,"zindex":1}}}}
 ]},
 {"width":30,"height":379,"mark":{"type":"point","size":0,"opacity":0},"encoding":{"x":{"datum":0.5,"type":"quantitative","scale":{"domain":[0,1]},"axis":null},"y":{"datum":0.5,"type":"quantitative","scale":{"domain":[0,1]},"axis":null}}},
 {"width":13,"height":379,"mark":{"type":"point","size":0,"opacity":0},"encoding":{"x":{"datum":0.5,"type":"quantitative","scale":{"domain":[0,1]},"axis":null},"y":{"datum":0.5,"type":"quantitative","scale":{"domain":[0,1]},"axis":null}}},
 {"width":579,"height":379,"resolve":{"axis":{"x":"independent","y":"independent"}},"layer":[
  {"mark":{"type":"rect","filled":false,"color":"#a0a0a0","strokeWidth":1.5},"encoding":{"x":{"datum":1,"type":"quantitative","axis":null},"x2":{"datum":428},"y":{"datum":0,"type":"quantitative","axis":null},"y2":{"datum":6}}},
  {"data":{"name":"peq"},"mark":{"type":"line","color":"#000080","strokeWidth":1.2},"encoding":{
   "x":{"field":"k","type":"quantitative","scale":{"domain":[1,428],"range":[47,551],"nice":false,"zero":false},"axis":{"title":null,"values":[1,36,71,106,141,176,211,246,281,316,351,386,421],"labelExpr":"datum.value + ''","labelFlush":false,"domainWidth":9,"ticks":false,"tickSize":0,"offset":-85,"labelPadding":11,"zindex":1}},
   "y":{"field":"p","type":"quantitative","scale":{"domain":[0,6],"range":[289.5,48.5],"nice":false,"zero":false},"axis":{"title":null,"values":[0,1,2,3,4,5,6],"labelExpr":"datum.value + ''","offset":-47,"tickSize":7,"labelPadding":8,"zindex":1}}}}
 ]},
 {"width":36,"height":379,"mark":{"type":"point","size":0,"opacity":0},"encoding":{"x":{"datum":0.5,"type":"quantitative","scale":{"domain":[0,1]},"axis":null},"y":{"datum":0.5,"type":"quantitative","scale":{"domain":[0,1]},"axis":null}}}
]},
{"spacing": 0, "bounds": "flush", "hconcat": [
 {"width":623,"height":32,"mark":{"type":"point","size":0,"opacity":0},"encoding":{"x":{"datum":0.5,"type":"quantitative","scale":{"domain":[0,1]},"axis":null},"y":{"datum":0.5,"type":"quantitative","scale":{"domain":[0,1]},"axis":null}},"title":{"text":"Periodogram SOI (first 100 values)","dx":13}},
 {"width":628,"height":32,"mark":{"type":"point","size":0,"opacity":0},"encoding":{"x":{"datum":0.5,"type":"quantitative","scale":{"domain":[0,1]},"axis":null},"y":{"datum":0.5,"type":"quantitative","scale":{"domain":[0,1]},"axis":null}},"title":{"text":"Periodogram EQSOI (first 100 values)","dx":14}}
]},
{"spacing": 0, "bounds": "flush", "hconcat": [
 {"width":13,"height":380,"mark":{"type":"point","size":0,"opacity":0},"encoding":{"x":{"datum":0.5,"type":"quantitative","scale":{"domain":[0,1]},"axis":null},"y":{"datum":0.5,"type":"quantitative","scale":{"domain":[0,1]},"axis":null}}},
 {"width":580,"height":380,"resolve":{"axis":{"x":"independent","y":"independent"}},"layer":[
  {"mark":{"type":"rect","filled":false,"color":"#a0a0a0","strokeWidth":1.5},"encoding":{"x":{"datum":1,"type":"quantitative","axis":null},"x2":{"datum":100},"y":{"datum":0,"type":"quantitative","axis":null},"y2":{"datum":600}}},
  {"data":{"name":"psoi"},"transform":[{"filter":"datum.k <= 100"}],"mark":{"type":"line","color":"#1a1a8c","strokeWidth":1.6},"encoding":{
   "x":{"field":"k","type":"quantitative","scale":{"domain":[1,100],"range":[70.7,550.7],"nice":false,"zero":false},"axis":{"title":null,"values":[1,2,3,4,5,6,7,8,9,10,11,12,13,14,15,16,17,18,19,20,21,22,23,24,25,26,27,28,29,30,31,32,33,34,35,36,37,38,39,40,41,42,43,44,45,46,47,48,49,50,51,52,53,54,55,56,57,58,59,60,61,62,63,64,65,66,67,68,69,70,71,72,73,74,75,76,77,78,79,80,81,82,83,84,85,86,87,88,89,90,91,92,93,94,95,96,97,98,99,100],"labelExpr":"(datum.value - 1) % 9 == 0 ? datum.value + '' : ''","labelFlush":false,"domainWidth":2,"tickSize":7,"tickWidth":1.5,"offset":-88,"labelPadding":9,"zindex":1}},
   "y":{"field":"p","type":"quantitative","scale":{"domain":[0,600],"range":[292,50],"nice":false,"zero":false},"axis":{"title":null,"values":[0,100,200,300,400,500,600],"labelExpr":"datum.value + ''","offset":-70.7,"tickSize":7,"labelPadding":11,"zindex":1}}}}
 ]},
 {"width":30,"height":380,"mark":{"type":"point","size":0,"opacity":0},"encoding":{"x":{"datum":0.5,"type":"quantitative","scale":{"domain":[0,1]},"axis":null},"y":{"datum":0.5,"type":"quantitative","scale":{"domain":[0,1]},"axis":null}}},
 {"width":13,"height":380,"mark":{"type":"point","size":0,"opacity":0},"encoding":{"x":{"datum":0.5,"type":"quantitative","scale":{"domain":[0,1]},"axis":null},"y":{"datum":0.5,"type":"quantitative","scale":{"domain":[0,1]},"axis":null}}},
 {"width":587,"height":380,"resolve":{"axis":{"x":"independent","y":"independent"}},"layer":[
  {"mark":{"type":"rect","filled":false,"color":"#a0a0a0","strokeWidth":1.5},"encoding":{"x":{"datum":1,"type":"quantitative","axis":null},"x2":{"datum":100},"y":{"datum":0,"type":"quantitative","axis":null},"y2":{"datum":6}}},
  {"data":{"name":"peq"},"transform":[{"filter":"datum.k <= 100"}],"mark":{"type":"line","color":"#1a1a8c","strokeWidth":1.6},"encoding":{
   "x":{"field":"k","type":"quantitative","scale":{"domain":[1,100],"range":[46.5,560],"nice":false,"zero":false},"axis":{"title":null,"values":[1,2,3,4,5,6,7,8,9,10,11,12,13,14,15,16,17,18,19,20,21,22,23,24,25,26,27,28,29,30,31,32,33,34,35,36,37,38,39,40,41,42,43,44,45,46,47,48,49,50,51,52,53,54,55,56,57,58,59,60,61,62,63,64,65,66,67,68,69,70,71,72,73,74,75,76,77,78,79,80,81,82,83,84,85,86,87,88,89,90,91,92,93,94,95,96,97,98,99,100],"labelExpr":"(datum.value - 1) % 9 == 0 ? datum.value + '' : ''","labelFlush":false,"domainWidth":2,"tickSize":7,"tickWidth":1.5,"offset":-89,"labelPadding":9,"zindex":1}},
   "y":{"field":"p","type":"quantitative","scale":{"domain":[0,6],"range":[291,50],"nice":false,"zero":false},"axis":{"title":null,"values":[0,1,2,3,4,5,6],"labelExpr":"datum.value + ''","offset":-46.5,"tickSize":7,"labelPadding":10,"zindex":1}}}}
 ]},
 {"width":28,"height":380,"mark":{"type":"point","size":0,"opacity":0},"encoding":{"x":{"datum":0.5,"type":"quantitative","scale":{"domain":[0,1]},"axis":null},"y":{"datum":0.5,"type":"quantitative","scale":{"domain":[0,1]},"axis":null}}}
]}
],
"config": {
 "view": {"stroke": "black", "strokeWidth": 1.5},
 "axis": {"labelFont": "Liberation Sans", "labelFontWeight": "bold", "labelFontSize": 22, "labelColor": "black", "domainColor": "black", "tickColor": "black", "domainWidth": 1.5, "tickWidth": 1.5, "grid": false, "labelOverlap": false},
 "title": {"anchor": "start", "frame": "group", "orient": "top", "offset": -31, "baseline": "alphabetic", "font": "Liberation Serif", "fontSize": 28, "fontWeight": "normal", "color": "black"}
}
}
